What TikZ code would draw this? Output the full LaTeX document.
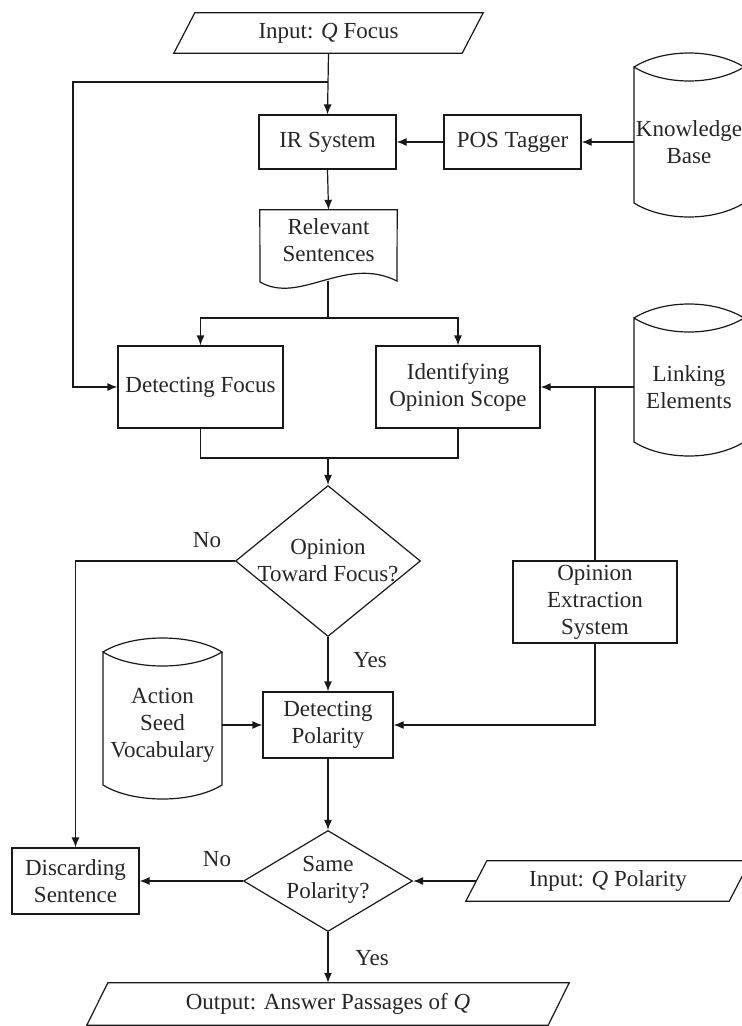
\documentclass[tikz,border=0pt]{standalone}
\usepackage{fontspec}
\setmainfont{Liberation Serif}
\usetikzlibrary{arrows.meta,shapes.geometric}
\newcommand\fs{\fontsize{23}{27}\selectfont}
\tikzset{
 shp/.style={draw=black!90, line width=1.2pt},
 box/.style={shp, rectangle, inner sep=0pt, align=center, font=\fs, text=black!85},
 txt/.style={inner sep=0pt, align=center, font=\fs, text=black!85},
 dia/.style={shp, diamond, inner sep=0pt},
 conn/.style={draw=black!90, line width=1.2pt},
 arr/.style={conn, -{Latex[length=10pt,width=8pt]}},
}
\newcommand\mypara[2]{\draw[shp] ([xshift=#2]#1.north west) -- ([xshift=#2]#1.north east) -- ([xshift=-#2]#1.south east) -- ([xshift=-#2]#1.south west) -- cycle;}
\newcommand\mycyl[5]{%
 \draw[shp] (#1,#3) .. controls (#1+30,#3-#5*4/3) and (#2-30,#3-#5*4/3) .. (#2,#3)
   .. controls (#2-30,#3+#5*4/3) and (#1+30,#3+#5*4/3) .. (#1,#3)
   -- (#1,#4) .. controls (#1+30,#4+#5*4/3) and (#2-30,#4+#5*4/3) .. (#2,#4) -- (#2,#3);}
\begin{document}
\begin{tikzpicture}[x=1pt,y=-1pt]
\useasboundingbox (0,0) rectangle (742,1026);
\clip (0,0) rectangle (742,1026);
\fill[white] (0,0) rectangle (742,1026);

% nodes
\node[txt, minimum width=288pt, minimum height=40pt] (inF) at (328.5,33) {Input: \textit{Q} Focus};
\mypara{inF}{10.5pt}
\node[box, minimum width=137pt, minimum height=54pt] (ir) at (327.5,142) {IR System};
\node[box, minimum width=137pt, minimum height=54pt] (pos) at (512.5,142) {POS Tagger};
\node[txt, minimum width=110pt] (kb) at (689,142) {Knowledge\\Base};
\mycyl{634}{744}{67}{203}{14}
\node[txt, minimum width=137pt, minimum height=60pt] (rs) at (328.5,240) {Relevant\\Sentences};
\draw[shp] (rs.north west) -- (rs.north east) -- (397,281) .. controls (345,255) and (300,305) .. (260,282) -- cycle;
\coordinate (rsb) at (328,281);
\node[box, minimum width=165pt, minimum height=82pt] (df) at (200.5,387) {Detecting Focus};
\node[box, minimum width=164pt, minimum height=82pt] (ios) at (458,387) {Identifying\\Opinion Scope};
\node[txt, minimum width=110pt] (le) at (689,387) {Linking\\Elements};
\mycyl{634}{744}{318}{442}{14}
\node[dia, minimum width=185pt, minimum height=151pt] (d1) at (328,561) {};
\node[txt] (d1t) at (328,561) {Opinion\\Toward Focus?};
\node[box, minimum width=164pt, minimum height=82pt] (oes) at (595,602) {Opinion\\Extraction\\System};
\node[box, minimum width=130pt, minimum height=66pt] (dp) at (328,725) {Detecting\\Polarity};
\node[txt, minimum width=119pt] (asv) at (162.5,725) {Action\\Seed\\Vocabulary};
\mycyl{103}{222}{652}{785}{14}
\node[dia, minimum width=169pt, minimum height=101pt] (d2) at (328,881) {};
\node[txt] (d2t) at (328,880) {Same\\Polarity?};
\node[box, minimum width=127pt, minimum height=66pt] (ds) at (75.5,881) {Discarding\\Sentence};
\node[txt, minimum width=263pt, minimum height=40pt] (inP) at (608,881) {Input: \textit{Q} Polarity};
\mypara{inP}{10.5pt}
\node[txt, minimum width=461pt, minimum height=42pt] (out) at (328,1004) {Output: Answer Passages of \textit{Q}};
\mypara{out}{10.5pt}

% labels
\node[txt] (no1) at (207,540) {No};
\node[txt] (yes1) at (370,660) {Yes};
\node[txt] (no2) at (217,859) {No};
\node[txt] (yes2) at (372,958) {Yes};

% connectors
\coordinate (br) at (328,82);
\coordinate (lc) at (73,82);
\draw[arr] (inF.south) -- (ir.north);
\draw[arr] (br) -- (lc) |- (df.west);
\draw[arr] (kb.west) -- (pos.east);
\draw[arr] (pos.west) -- (ir.east);
\draw[arr] (ir.south) -- (rs.north);
\coordinate (sp) at (328,318);
\draw[conn] (rsb) -- (sp);
\draw[arr] (sp) -| (df.north);
\draw[arr] (sp) -| (ios.north);
\coordinate (jb) at (328,458);
\draw[conn] (df.south) |- (jb) -| (ios.south);
\draw[arr] (jb) -- (d1.north);
\draw[arr] (le.west) -- (ios.east);
\coordinate (jx) at (595,387);
\draw[conn] (oes.north) -- (jx);
\draw[arr] (d1.west) -| (ds.north);
\draw[arr] (d1.south) -- (dp.north);
\draw[arr] (asv.east) -- (dp.west);
\draw[arr] (oes.south) |- (dp.east);
\draw[arr] (dp.south) -- (d2.north);
\draw[arr] (d2.west) -- (ds.east);
\draw[arr] (inP.west) -- (d2.east);
\draw[arr] (d2.south) -- (out.north);
\end{tikzpicture}
\end{document}
